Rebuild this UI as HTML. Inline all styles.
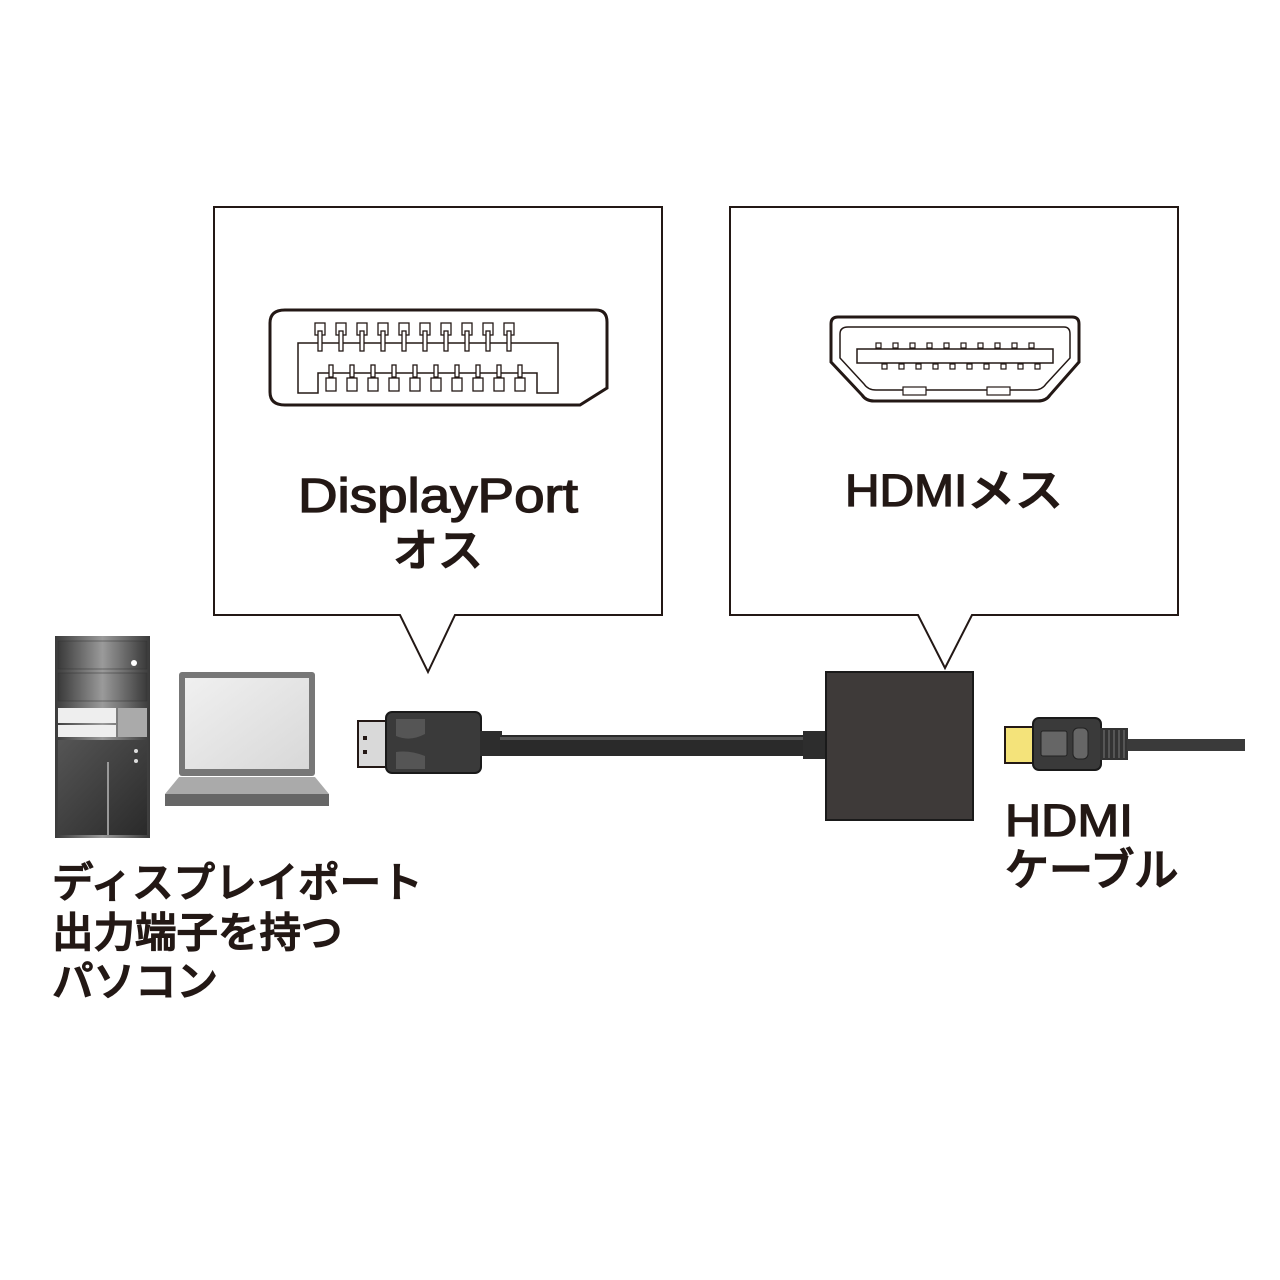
<!DOCTYPE html>
<html><head><meta charset="utf-8"><style>
html,body{margin:0;padding:0;background:#fff;}
svg{display:block}
text{font-family:"Liberation Sans","Noto Sans CJK JP",sans-serif;fill:#231815;stroke:#231815;stroke-width:1.3px;font-weight:500;}
</style></head><body>
<svg width="1280" height="1280" viewBox="0 0 1280 1280" xmlns="http://www.w3.org/2000/svg">
<defs>
<linearGradient id="tw" x1="0" x2="1"><stop offset="0" stop-color="#3a3a3a"/><stop offset="0.5" stop-color="#9a9a9a"/><stop offset="1" stop-color="#3a3a3a"/></linearGradient>
<linearGradient id="tl" x1="0" y1="0" x2="1" y2="1"><stop offset="0" stop-color="#555"/><stop offset="1" stop-color="#2a2a2a"/></linearGradient>
<linearGradient id="scr" x1="0" y1="0" x2="1" y2="1"><stop offset="0" stop-color="#f0f0f0"/><stop offset="1" stop-color="#d8d8d8"/></linearGradient>
</defs>
<path d="M214 207 H662 V615 H455 L428 672 L400 615 H214 Z" fill="#fff" stroke="#231815" stroke-width="2"/>
<path d="M730 207 H1178 V615 H972 L945 668 L918 615 H730 Z" fill="#fff" stroke="#231815" stroke-width="2"/>
<path d="M285 310 H596 Q607 310 607 322 V388 L580 405 H285 Q270 405 270 392 V323 Q270 310 285 310 Z" fill="#fff" stroke="#231815" stroke-width="3"/>
<path d="M298 343 H558 V393 H537 V373 H318 V393 H298 Z" fill="none" stroke="#231815" stroke-width="1.5"/>
<g fill="#fff" stroke="#231815" stroke-width="1.3">
<g id="tp"><rect x="315" y="323" width="10" height="12"/><rect x="318" y="331" width="4" height="20"/></g>
<use href="#tp" x="21"/><use href="#tp" x="42"/><use href="#tp" x="63"/><use href="#tp" x="84"/><use href="#tp" x="105"/><use href="#tp" x="126"/><use href="#tp" x="147"/><use href="#tp" x="168"/><use href="#tp" x="189"/>
<g id="bp"><rect x="329" y="365" width="4" height="12"/><rect x="326" y="378" width="10" height="13"/></g>
<use href="#bp" x="21"/><use href="#bp" x="42"/><use href="#bp" x="63"/><use href="#bp" x="84"/><use href="#bp" x="105"/><use href="#bp" x="126"/><use href="#bp" x="147"/><use href="#bp" x="168"/><use href="#bp" x="189"/>
</g>
<path d="M838 317 H1072 Q1079 317 1079 324 V362 L1050 395 Q1046 401 1038 401 H874 Q866 401 862 395 L831 362 V324 Q831 317 838 317 Z" fill="#fff" stroke="#231815" stroke-width="3"/>
<path d="M848 327 H1064 Q1070 327 1070 334 V358 L1046 384 Q1042 390 1034 390 H876 Q868 390 864 384 L840 358 V334 Q840 327 848 327 Z" fill="none" stroke="#231815" stroke-width="1.5"/>
<rect x="857" y="349" width="196" height="14" fill="#fff" stroke="#231815" stroke-width="1.5"/>
<g fill="#fff" stroke="#231815" stroke-width="1.2">
<g id="hp"><rect x="876" y="343" width="5" height="5"/><rect x="882" y="364" width="5" height="5"/></g>
<use href="#hp" x="17"/><use href="#hp" x="34"/><use href="#hp" x="51"/><use href="#hp" x="68"/><use href="#hp" x="85"/><use href="#hp" x="102"/><use href="#hp" x="119"/><use href="#hp" x="136"/><use href="#hp" x="153"/>
<rect x="903" y="387" width="23" height="8"/><rect x="987" y="387" width="23" height="8"/>
</g>
<text x="438" y="512" font-size="48" text-anchor="middle" textLength="280" lengthAdjust="spacingAndGlyphs">DisplayPort</text>
<text x="438" y="566" font-size="45" text-anchor="middle">オス</text>
<text x="954" y="506" font-size="45" text-anchor="middle" textLength="218" lengthAdjust="spacingAndGlyphs">HDMIメス</text>
<text x="52" y="897" font-size="41.5">ディスプレイポート</text>
<text x="52" y="947" font-size="41.5">出力端子を持つ</text>
<text x="52" y="996" font-size="41.5">パソコン</text>
<text x="1005" y="836" font-size="45" textLength="128" lengthAdjust="spacingAndGlyphs">HDMI</text>
<text x="1005" y="885" font-size="44">ケーブル</text>
<rect x="55" y="636" width="95" height="202" fill="url(#tw)"/>
<rect x="58" y="641" width="89" height="28" fill="url(#tw)" stroke="#333" stroke-width="0.5"/>
<rect x="58" y="673" width="89" height="28" fill="url(#tw)" stroke="#333" stroke-width="0.5"/>
<rect x="58" y="708" width="58" height="15" fill="#eee"/>
<rect x="58" y="725" width="58" height="12" fill="#eee"/>
<rect x="118" y="708" width="29" height="29" fill="#aaa"/>
<circle cx="134" cy="663" r="3" fill="#fff"/>
<rect x="58" y="740" width="89" height="95" fill="url(#tl)"/>
<rect x="107" y="762" width="2" height="73" fill="#999"/>
<circle cx="136" cy="751" r="2" fill="#ddd"/><circle cx="136" cy="761" r="2" fill="#ddd"/>
<rect x="179" y="672" width="136" height="104" rx="3" fill="#777"/>
<rect x="185" y="678" width="124" height="91" fill="url(#scr)"/>
<path d="M179 777 H315 L329 794 H165 Z" fill="#aaa"/>
<rect x="165" y="794" width="164" height="12" fill="#666"/>
<rect x="358" y="721" width="32" height="46" fill="#d9d9d9" stroke="#231815" stroke-width="2"/>
<rect x="363" y="736" width="4" height="4" fill="#231815"/><rect x="363" y="750" width="4" height="4" fill="#231815"/>
<rect x="386" y="712" width="95" height="61" rx="6" fill="#3a3a3a" stroke="#1a1a1a" stroke-width="2"/>
<path d="M396 719 H425 V734 Q410 742 396 736 Z M396 769 H425 V756 Q410 750 396 752 Z" fill="#555"/>
<rect x="480" y="731" width="22" height="25" fill="#2d2d2d"/>
<rect x="500" y="735" width="305" height="21" fill="#2a2a2a"/>
<rect x="500" y="737" width="305" height="3" fill="#555"/>
<rect x="803" y="731" width="24" height="28" fill="#2d2d2d"/>
<rect x="826" y="672" width="147" height="148" fill="#3e3a39" stroke="#1a1a1a" stroke-width="2"/>
<rect x="1005" y="727" width="30" height="36" fill="#f4e37a" stroke="#231815" stroke-width="2"/>
<rect x="1033" y="718" width="68" height="52" rx="6" fill="#3a3a3a" stroke="#1a1a1a" stroke-width="2"/>
<rect x="1041" y="731" width="26" height="25" rx="2" fill="#666" stroke="#222"/>
<rect x="1073" y="728" width="15" height="31" rx="5" fill="#666" stroke="#222"/>
<rect x="1100" y="728" width="28" height="32" fill="#333"/>
<g stroke="#777" stroke-width="1"><line x1="1104" y1="730" x2="1104" y2="758"/><line x1="1109" y1="730" x2="1109" y2="758"/><line x1="1114" y1="730" x2="1114" y2="758"/><line x1="1119" y1="730" x2="1119" y2="758"/><line x1="1124" y1="730" x2="1124" y2="758"/></g>
<rect x="1127" y="739" width="118" height="12" fill="#3a3a3a"/>
</svg>
</body></html>
